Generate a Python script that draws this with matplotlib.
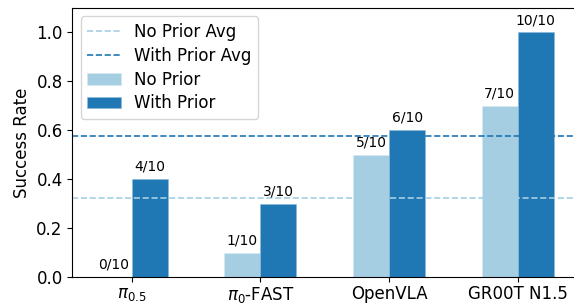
import matplotlib.pyplot as plt
import numpy as np

models = [r'$\pi_{0.5}$', r'$\pi_0$-FAST', 'OpenVLA', 'GR00T N1.5']
no_prior = [0.0, 0.1, 0.5, 0.7]
with_prior = [0.4, 0.3, 0.6, 1.0]
no_prior_labels = ['0/10', '1/10', '5/10', '7/10']
with_prior_labels = ['4/10', '3/10', '6/10', '10/10']

light = '#a6cee3'
dark = '#1f77b4'

fig = plt.figure(figsize=(5.74, 3.05), dpi=100)
# axes run past the right edge, as in the cropped original
ax = fig.add_axes([0.1262, 0.0918, 1.0, 0.882])

x = np.arange(len(models))
w = 0.28
ax.axhline(np.mean(no_prior), color=light, linestyle='--', linewidth=1.2, label='No Prior Avg')
ax.axhline(np.mean(with_prior), color=dark, linestyle='--', linewidth=1.2, label='With Prior Avg')
ax.bar(x - w / 2, no_prior, w, color=light, edgecolor='#d4e8f2', linewidth=0.4, label='No Prior')
ax.bar(x + w / 2, with_prior, w, color=dark, edgecolor='#8fbbd9', linewidth=0.4, label='With Prior')

for xi, v, t in zip(x - w / 2, no_prior, no_prior_labels):
    ax.text(xi, v + 0.022, t, ha='center', va='bottom', fontsize=10)
for xi, v, t in zip(x + w / 2, with_prior, with_prior_labels):
    ax.text(xi, v + 0.022, t, ha='center', va='bottom', fontsize=10)

ax.set_xticks(x)
ax.set_xticklabels(models, fontsize=12)
ax.tick_params(axis='x', pad=2.5)
ax.tick_params(axis='y', labelsize=12)
ax.set_ylabel('Success Rate', fontsize=12)
ax.set_ylim(0, 1.1)
ppu = 128.7
ax.set_xlim(-(131.7 - 72.4) / ppu, -(131.7 - 72.4) / ppu + 574 / ppu)

ax.legend(loc='upper left', fontsize=12, labelspacing=0.35)

fig.savefig('out.png', dpi=100)
